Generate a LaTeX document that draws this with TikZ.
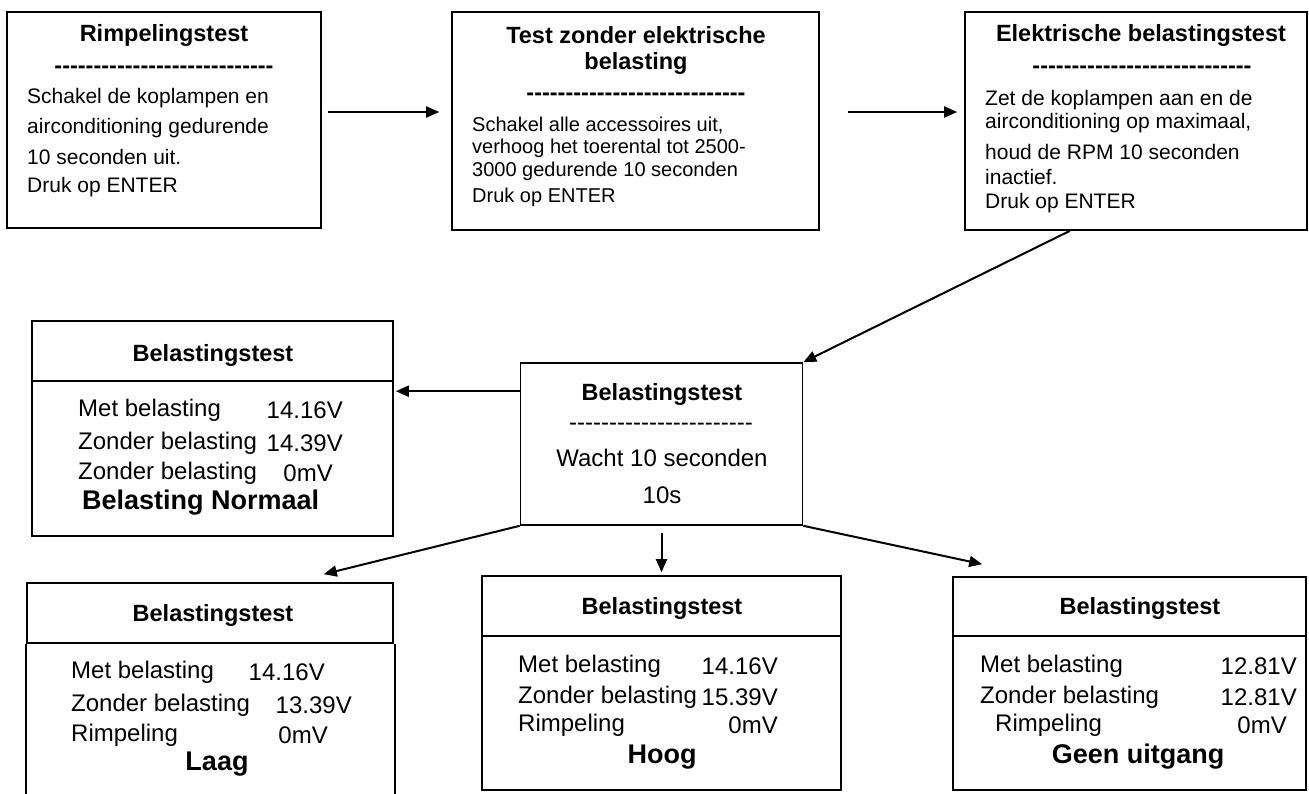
\documentclass[tikz,border=0pt]{standalone}
\usepackage{fontspec}
\setmainfont{Liberation Sans}
\usetikzlibrary{arrows.meta,positioning}

\newcommand{\dashrow}[1]{\foreach \k in {1,...,#1}{-\kern0pt}}

\begin{document}
\begin{tikzpicture}[
  x=1pt, y=-1pt,
  box/.style={draw, line width=1.6pt, inner sep=0pt},
  ttl/.style={inner sep=0pt, font=\bfseries\fontsize{23.5}{28}\selectfont},
  txt/.style={inner sep=0pt, anchor=west, font=\fontsize{21}{25}\selectfont},
  txtb/.style={inner sep=0pt, anchor=west, font=\fontsize{20}{24}\selectfont},
  mid/.style={inner sep=0pt, font=\fontsize{24}{28}\selectfont},
  lbl/.style={inner sep=0pt, anchor=west, font=\fontsize{24}{28}\selectfont},
  val/.style={inner sep=0pt, anchor=east, font=\fontsize{24}{28}\selectfont},
  stat/.style={inner sep=0pt, font=\bfseries\fontsize{27}{32}\selectfont},
  arr/.style={->, line width=2pt},
  >={Triangle[length=13pt, width=11pt]}
]
\useasboundingbox (0,0) rectangle (1309,794);

% top row
\node[box, minimum width=314pt, minimum height=216pt] (rimpel) at (164,120) {};
\node[box, minimum width=367pt, minimum height=218pt] (zonder) at (635.5,121) {};
\node[box, minimum width=342pt, minimum height=218pt] (elek) at (1136,121) {};

\node[ttl] (rimpel-t) at (164,35) {Rimpelingstest};
\node[ttl] (rimpel-d) at (164,70) {\dashrow{28}};
\node[txt] (rimpel-1) at (27,98) {Schakel de koplampen en};
\node[txt] (rimpel-2) at (27,128) {airconditioning gedurende};
\node[txt] (rimpel-3) at (27,157) {10 seconden uit.};
\node[txt] (rimpel-4) at (27,187) {Druk op ENTER};

\node[ttl] (zonder-t1) at (636,35) {Test zonder elektrische};
\node[ttl] (zonder-t2) at (636,63) {belasting};
\node[ttl] (zonder-d) at (636,97) {\dashrow{28}};
\node[txtb] (zonder-1) at (472,126) {Schakel alle accessoires uit,};
\node[txtb] (zonder-2) at (472,148) {verhoog het toerental tot 2500-};
\node[txtb] (zonder-3) at (472,171) {3000 gedurende 10 seconden};
\node[txtb] (zonder-4) at (472,197) {Druk op ENTER};

\node[ttl] (elek-t) at (1141,35) {Elektrische belastingstest};
\node[ttl] (elek-d) at (1142,70) {\dashrow{28}};
\node[txt] (elek-1) at (985,100) {Zet de koplampen aan en de};
\node[txt] (elek-2) at (985,123) {airconditioning op maximaal,};
\node[txt] (elek-3) at (985,152) {houd de RPM 10 seconden};
\node[txt] (elek-4) at (985,177) {inactief.};
\node[txt] (elek-5) at (985,203) {Druk op ENTER};

% wait box
\node[box, minimum width=282pt, minimum height=162pt] (wacht) at (661.5,444) {};
\node[ttl] (wacht-t) at (662,394) {Belastingstest};
\node[mid] (wacht-d) at (661,427) {\dashrow{23}};
\node[mid] (wacht-1) at (662,458) {Wacht 10 seconden};
\node[mid] (wacht-2) at (662,495) {10s};

% result boxes
\node[box, minimum width=361pt, minimum height=60pt] (norm-head) at (212.5,351) {};
\node[box, minimum width=361pt, minimum height=155pt] (norm-body) at (212.5,458.5) {};
\node[ttl] (norm-t) at (213,355) {Belastingstest};
\node[lbl] (norm-1) at (78,410) {Met belasting};
\node[val] (norm-1v) at (343,410) {14.16V};
\node[lbl] (norm-2) at (78,443) {Zonder belasting};
\node[val] (norm-2v) at (343,443) {14.39V};
\node[lbl] (norm-3) at (78,473) {Zonder belasting};
\node[val] (norm-3v) at (333,473) {0mV};
\node[stat, anchor=west] (norm-s) at (82,503) {Belasting Normaal};

\node[box, minimum width=366pt, minimum height=60pt] (laag-head) at (210,613) {};
\draw[line width=1.6pt] (laag-head.south west) -- ++(0,151);
\draw[line width=1.6pt] ([xshift=1pt]laag-head.south east) -- ++(0,151);
\node[ttl] (laag-t) at (213,615) {Belastingstest};
\node[lbl] (laag-1) at (71,672) {Met belasting};
\node[val] (laag-1v) at (325,672) {14.16V};
\node[lbl] (laag-2) at (71,705) {Zonder belasting};
\node[val] (laag-2v) at (352,705) {13.39V};
\node[lbl] (laag-3) at (71,735) {Rimpeling};
\node[val] (laag-3v) at (328,735) {0mV};
\node[stat] (laag-s) at (217,764) {Laag};

\node[box, minimum width=359pt, minimum height=60pt] (hoog-head) at (661.5,606) {};
\node[box, minimum width=359pt, minimum height=154pt] (hoog-body) at (661.5,713) {};
\node[ttl] (hoog-t) at (662,608) {Belastingstest};
\node[lbl] (hoog-1) at (518,666) {Met belasting};
\node[val] (hoog-1v) at (778,666) {14.16V};
\node[lbl] (hoog-2) at (518,697) {Zonder belasting};
\node[val] (hoog-2v) at (778,697) {15.39V};
\node[lbl] (hoog-3) at (518,725) {Rimpeling};
\node[val] (hoog-3v) at (778,725) {0mV};
\node[stat] (hoog-s) at (662,757) {Hoog};

\node[box, minimum width=353pt, minimum height=59pt] (geen-head) at (1129.5,606.5) {};
\node[box, minimum width=353pt, minimum height=154pt] (geen-body) at (1129.5,713) {};
\node[ttl] (geen-t) at (1140,608) {Belastingstest};
\node[lbl] (geen-1) at (980,666) {Met belasting};
\node[val] (geen-1v) at (1297,666) {12.81V};
\node[lbl] (geen-2) at (980,697) {Zonder belasting};
\node[val] (geen-2v) at (1297,697) {12.81V};
\node[lbl] (geen-3) at (995,725) {Rimpeling};
\node[val] (geen-3v) at (1287,725) {0mV};
\node[stat] (geen-s) at (1138,757) {Geen uitgang};

% arrows
\draw[arr, shorten <=6pt, shorten >=12pt] ([yshift=8pt]rimpel.east) -- ([yshift=8pt]rimpel.east -| zonder.west);
\draw[arr, shorten <=28pt, shorten >=7pt] ([yshift=9pt]zonder.east) -- ([yshift=9pt]zonder.east -| elek.west);
\draw[arr] ([xshift=-66pt]elek.south) -- (wacht.north east);
\draw[arr, shorten >=2pt] ([yshift=-29pt]wacht.north west) -- ([yshift=-11pt]norm-body.north east);
\draw[arr] (wacht.south west) -- ([shift={(-70pt,8pt)}]laag-head.north east);
\draw[arr] ([yshift=-7pt]wacht.south) -- ([yshift=3pt]hoog-head.north);
\draw[arr] (wacht.south east) -- ([shift={(30pt,12pt)}]geen-head.north west);
\end{tikzpicture}
\end{document}
